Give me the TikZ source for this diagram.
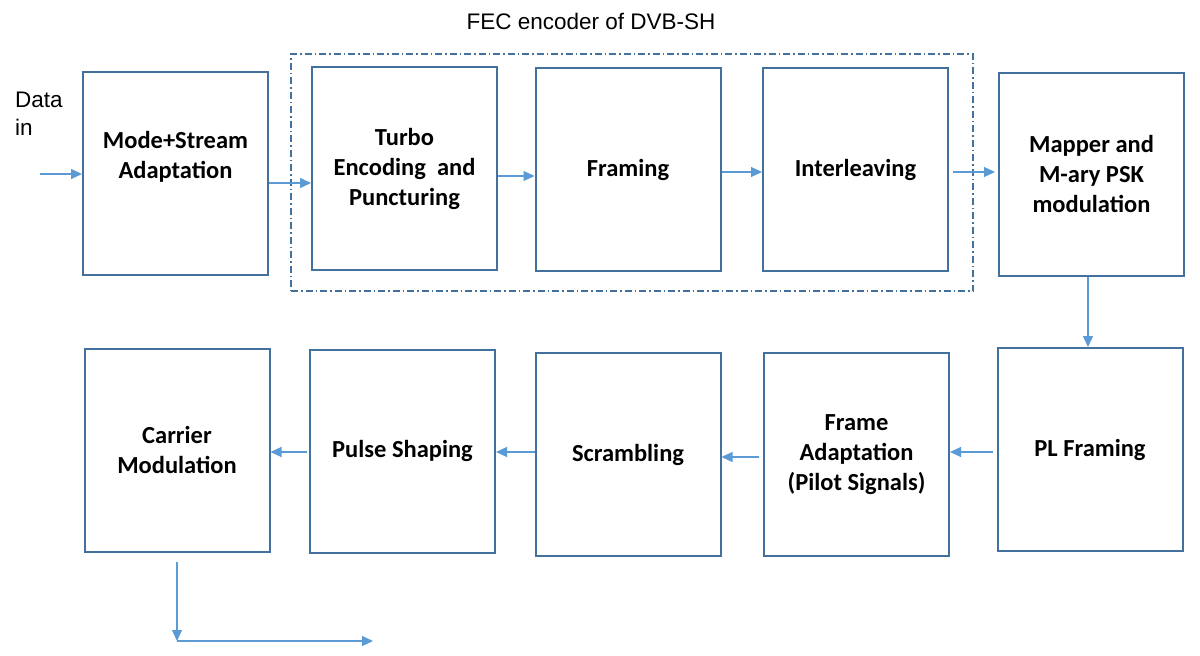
\documentclass[tikz,border=0pt]{standalone}
\usepackage{fontspec}
\setmainfont{Carlito}
\newfontfamily\arialfont{Liberation Sans}
\usetikzlibrary{arrows.meta}
\definecolor{boxline}{HTML}{41719C}
\definecolor{flowline}{HTML}{5B9BD5}

\begin{document}
\begin{tikzpicture}[x=1pt, y=-1pt]
\tikzstyle{block}=[rectangle, draw=boxline, line width=2pt, minimum width=185pt, minimum height=203pt, align=center, font=\fontsize{24.5}{30}\selectfont\bfseries, inner sep=0pt]
\tikzstyle{connect}=[-{Triangle[length=11pt, width=10pt]}, draw=flowline, fill=flowline, line width=1.1pt]
\tikzstyle{plain}=[font=\arialfont\fontsize{22.5}{28}\selectfont, inner sep=0pt]

\useasboundingbox (0,0) rectangle (1200,656);

% top row
\node[block, text depth=36pt] at (175.5,173) (mode) {Mode+Stream\\Adaptation};
\node[block] at (404.5,168.5) (turbo) {Turbo\\Encoding~ and\\Puncturing};
\node[block] at (628,169.5) (framing) {Framing};
\node[block] at (855.5,169.5) (inter) {Interleaving};
\node[block] at (1091.5,174) (mapper) {Mapper and\\M-ary PSK\\modulation};

% bottom row
\node[block] at (177,450) (carrier) {Carrier\\Modulation};
\node[block] at (402.5,451) (pulse) {Pulse Shaping};
\node[block] at (628,454.5) (scramb) {Scrambling};
\node[block] at (856.5,454.5) (framead) {Frame\\Adaptation\\(Pilot Signals)};
\node[block] at (1090,449.5) (plframe) {PL Framing};

% FEC group
\node[rectangle, draw=boxline, line width=1.6pt, dash pattern=on 7pt off 3pt on 1.5pt off 3pt, minimum width=682pt, minimum height=237pt] at (632,172.5) (fec) {};
\node[plain] at (591,21) (fectitle) {FEC encoder of DVB-SH};

\node[plain, anchor=north west, align=left] at (15,92) (datain) {Data\\in};
\coordinate (src) at (40,174);
\coordinate (sink) at (177,641);
\coordinate (out) at (373,641);

\draw[connect] (src) -- (src -| mode.west);
\draw[connect] (270,183 -| mode.east) -- (turbo.west |- 0,183);
\draw[connect] (turbo.east |- 0,176) -- (framing.west |- 0,176);
\draw[connect] (framing.east |- 0,172) -- (inter.west |- 0,172);
\draw[connect] ([xshift=4pt]inter.east |- 0,172) -- ([xshift=-3pt]mapper.west |- 0,172);
\draw[connect] (mapper.south -| 1088,0) -- (plframe.north -| 1088,0);
\draw[connect] ([xshift=-4pt]plframe.west |- 0,452) -- (framead.east |- 0,452);
\draw[connect] ([xshift=-4pt]framead.west |- 0,457) -- (scramb.east |- 0,457);
\draw[connect] (scramb.west |- 0,452) -- (pulse.east |- 0,452);
\draw[connect] ([xshift=-2pt]pulse.west |- 0,452) -- (carrier.east |- 0,452);
\draw[connect] ([yshift=-9pt]carrier.south) -- (sink);
\draw[connect] (sink) -- (out);
\end{tikzpicture}
\end{document}
